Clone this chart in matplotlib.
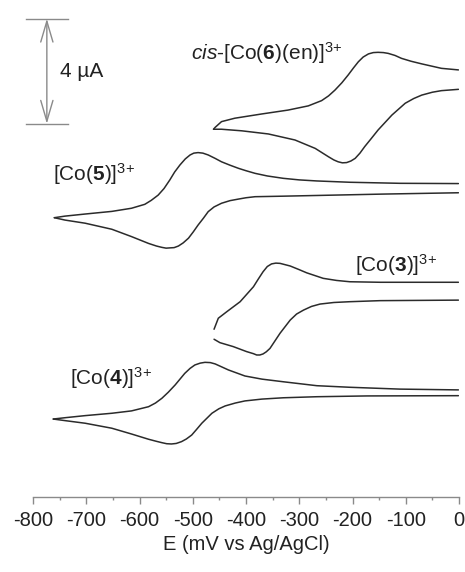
import matplotlib
matplotlib.use("Agg")
import matplotlib.pyplot as plt
from matplotlib.ticker import MultipleLocator

plt.rcParams['font.family'] = ['Liberation Sans', 'DejaVu Sans']
plt.rcParams['mathtext.fontset'] = 'custom'
plt.rcParams['mathtext.rm'] = 'Liberation Sans'
plt.rcParams['mathtext.it'] = 'Liberation Sans:italic'
plt.rcParams['mathtext.bf'] = 'Liberation Sans:bold'
plt.rcParams['axes.unicode_minus'] = False

# ---- data (E in mV vs Ag/AgCl, current in µA incl. vertical stacking offset) ----
co6_upper_E = [-461, -458, -446, -421, -371, -321, -283, -258, -245, -233, -220, -208, -198, -189, -180, -170, -161, -152, -142, -133, -120, -108, -90, -70, -33, -1]
co6_upper_I = [14.01, 14.08, 14.30, 14.43, 14.59, 14.74, 14.90, 15.10, 15.28, 15.50, 15.78, 16.08, 16.35, 16.58, 16.76, 16.88, 16.93, 16.94, 16.93, 16.90, 16.82, 16.71, 16.60, 16.50, 16.33, 16.27]
co6_lower_E = [-461, -446, -408, -358, -308, -270, -245, -235, -227, -219, -211, -203, -195, -186, -177, -165, -152, -126, -101, -85, -70, -50, -33, -1]
co6_lower_I = [14.01, 14.01, 13.95, 13.83, 13.60, 13.28, 12.96, 12.84, 12.77, 12.73, 12.74, 12.80, 12.90, 13.10, 13.35, 13.65, 13.98, 14.55, 15.00, 15.18, 15.31, 15.42, 15.48, 15.53]

co5_upper_E = [-760, -740, -702, -652, -615, -590, -578, -565, -554, -543, -534, -524, -514, -505, -498, -490, -481, -471, -458, -446, -430, -414, -400, -383, -360, -330, -300, -267, -205, -111, -1]
co5_upper_I = [10.64, 10.70, 10.78, 10.88, 11.00, 11.15, 11.30, 11.50, 11.75, 12.08, 12.38, 12.65, 12.88, 13.03, 13.10, 13.12, 13.10, 13.03, 12.90, 12.77, 12.64, 12.52, 12.43, 12.33, 12.23, 12.14, 12.08, 12.04, 11.99, 11.95, 11.94]
co5_lower_E = [-760, -740, -702, -652, -615, -583, -568, -558, -550, -543, -535, -527, -518, -508, -499, -490, -480, -471, -460, -446, -430, -414, -400, -383, -330, -236, -142, -1]
co5_lower_I = [10.64, 10.55, 10.43, 10.20, 9.92, 9.66, 9.56, 9.51, 9.48, 9.49, 9.50, 9.56, 9.68, 9.86, 10.10, 10.36, 10.62, 10.87, 11.05, 11.19, 11.29, 11.35, 11.40, 11.44, 11.46, 11.50, 11.54, 11.59]

co3_upper_E = [-460, -452, -436, -411, -386, -377, -368, -360, -352, -344, -336, -317, -300, -286, -255, -230, -205, -148, -1]
co3_upper_I = [6.39, 6.81, 7.06, 7.44, 8.01, 8.30, 8.58, 8.78, 8.88, 8.91, 8.90, 8.80, 8.66, 8.54, 8.33, 8.25, 8.20, 8.18, 8.18]
co3_lower_E = [-460, -449, -424, -399, -386, -380, -374, -368, -362, -355, -336, -317, -305, -292, -277, -261, -235, -205, -148, -1]
co3_lower_I = [6.01, 5.88, 5.73, 5.54, 5.46, 5.41, 5.41, 5.45, 5.53, 5.66, 6.24, 6.74, 6.97, 7.12, 7.26, 7.35, 7.41, 7.44, 7.48, 7.50]

co4_upper_E = [-762, -740, -702, -652, -615, -583, -570, -558, -546, -533, -515, -505, -496, -486, -477, -467, -458, -446, -433, -402, -370, -330, -267, -205, -111, -1]
co4_upper_I = [2.97, 3.02, 3.10, 3.19, 3.28, 3.44, 3.58, 3.76, 3.99, 4.27, 4.71, 4.90, 5.03, 5.10, 5.13, 5.12, 5.07, 4.96, 4.84, 4.61, 4.49, 4.39, 4.24, 4.18, 4.11, 4.08]
co4_lower_E = [-762, -740, -702, -652, -615, -583, -568, -558, -549, -540, -531, -521, -512, -502, -493, -483, -464, -451, -439, -420, -402, -370, -330, -267, -173, -1]
co4_lower_I = [2.97, 2.91, 2.81, 2.62, 2.40, 2.20, 2.12, 2.07, 2.03, 2.02, 2.04, 2.11, 2.21, 2.36, 2.57, 2.81, 3.19, 3.36, 3.47, 3.58, 3.66, 3.73, 3.78, 3.82, 3.85, 3.86]

labels = [r'$\mathit{cis}$-[Co($\mathbf{6}$)(en)]$^{3{+}}$', r'[Co($\mathbf{5}$)]$^{3{+}}$',
          r'[Co($\mathbf{3}$)]$^{3{+}}$', r'[Co($\mathbf{4}$)]$^{3{+}}$']
label_E = [-503, -762, -195, -731]
label_I = [16.91, 12.30, 8.84, 4.53]

scale_bar_uA = 4
scale_bar_top = 18.22

x_ticks = [-800, -700, -600, -500, -400, -300, -200, -100, 0]

# ---- figure ----
fig = plt.figure(figsize=(4.65, 5.72), dpi=100)
ax = fig.add_axes([33/465, 75/572, 426/465, 497/572])
ax.set_xlim(-800, 0)
ax.set_ylim(0, 497/26.25)

curve_color = '#2b2b2b'
branches = [(co6_upper_E, co6_upper_I), (co6_lower_E, co6_lower_I),
            (co5_upper_E, co5_upper_I), (co5_lower_E, co5_lower_I),
            (co3_upper_E, co3_upper_I), (co3_lower_E, co3_lower_I),
            (co4_upper_E, co4_upper_I), (co4_lower_E, co4_lower_I)]
for E, I in branches:
    ax.plot(E, I, color=curve_color, lw=1.1, solid_joinstyle='round', solid_capstyle='round')

for txt, e, i in zip(labels, label_E, label_I):
    ax.text(e, i, txt, fontsize=15, color='#222222', ha='left', va='center')

# scale bar
sb_x = -774
sb_bot = scale_bar_top - scale_bar_uA
grey = '#8a8a8a'
ax.annotate('', xy=(sb_x, scale_bar_top), xytext=(sb_x, sb_bot),
            arrowprops=dict(arrowstyle='<->,head_length=0.75,head_width=0.22',
                            color=grey, lw=1.0, shrinkA=0, shrinkB=0, mutation_scale=20),
            annotation_clip=False)
for yy in (scale_bar_top, sb_bot):
    ax.plot([-813, -734], [yy, yy], color=grey, lw=1.0, clip_on=False)
ax.text(-749, (scale_bar_top + sb_bot) / 2, '4 µA', fontsize=15, color='#222222',
        ha='left', va='center')

# axes styling
for s in ('left', 'right', 'top'):
    ax.spines[s].set_visible(False)
ax.spines['bottom'].set_color(grey)
ax.spines['bottom'].set_linewidth(1.0)
ax.set_yticks([])
ax.set_xticks(x_ticks)
ax.set_xticklabels([str(t) for t in x_ticks])
ax.xaxis.set_minor_locator(MultipleLocator(50))
ax.tick_params(axis='x', which='major', direction='out', length=5, width=1.0,
               color=grey, labelsize=14.5, labelcolor='#222222', pad=5)
ax.tick_params(axis='x', which='minor', direction='out', length=2.5, width=1.0, color=grey)
ax.set_xlabel('E (mV vs Ag/AgCl)', fontsize=14.5, color='#222222', labelpad=4)

fig.savefig('out.png', dpi=100)
